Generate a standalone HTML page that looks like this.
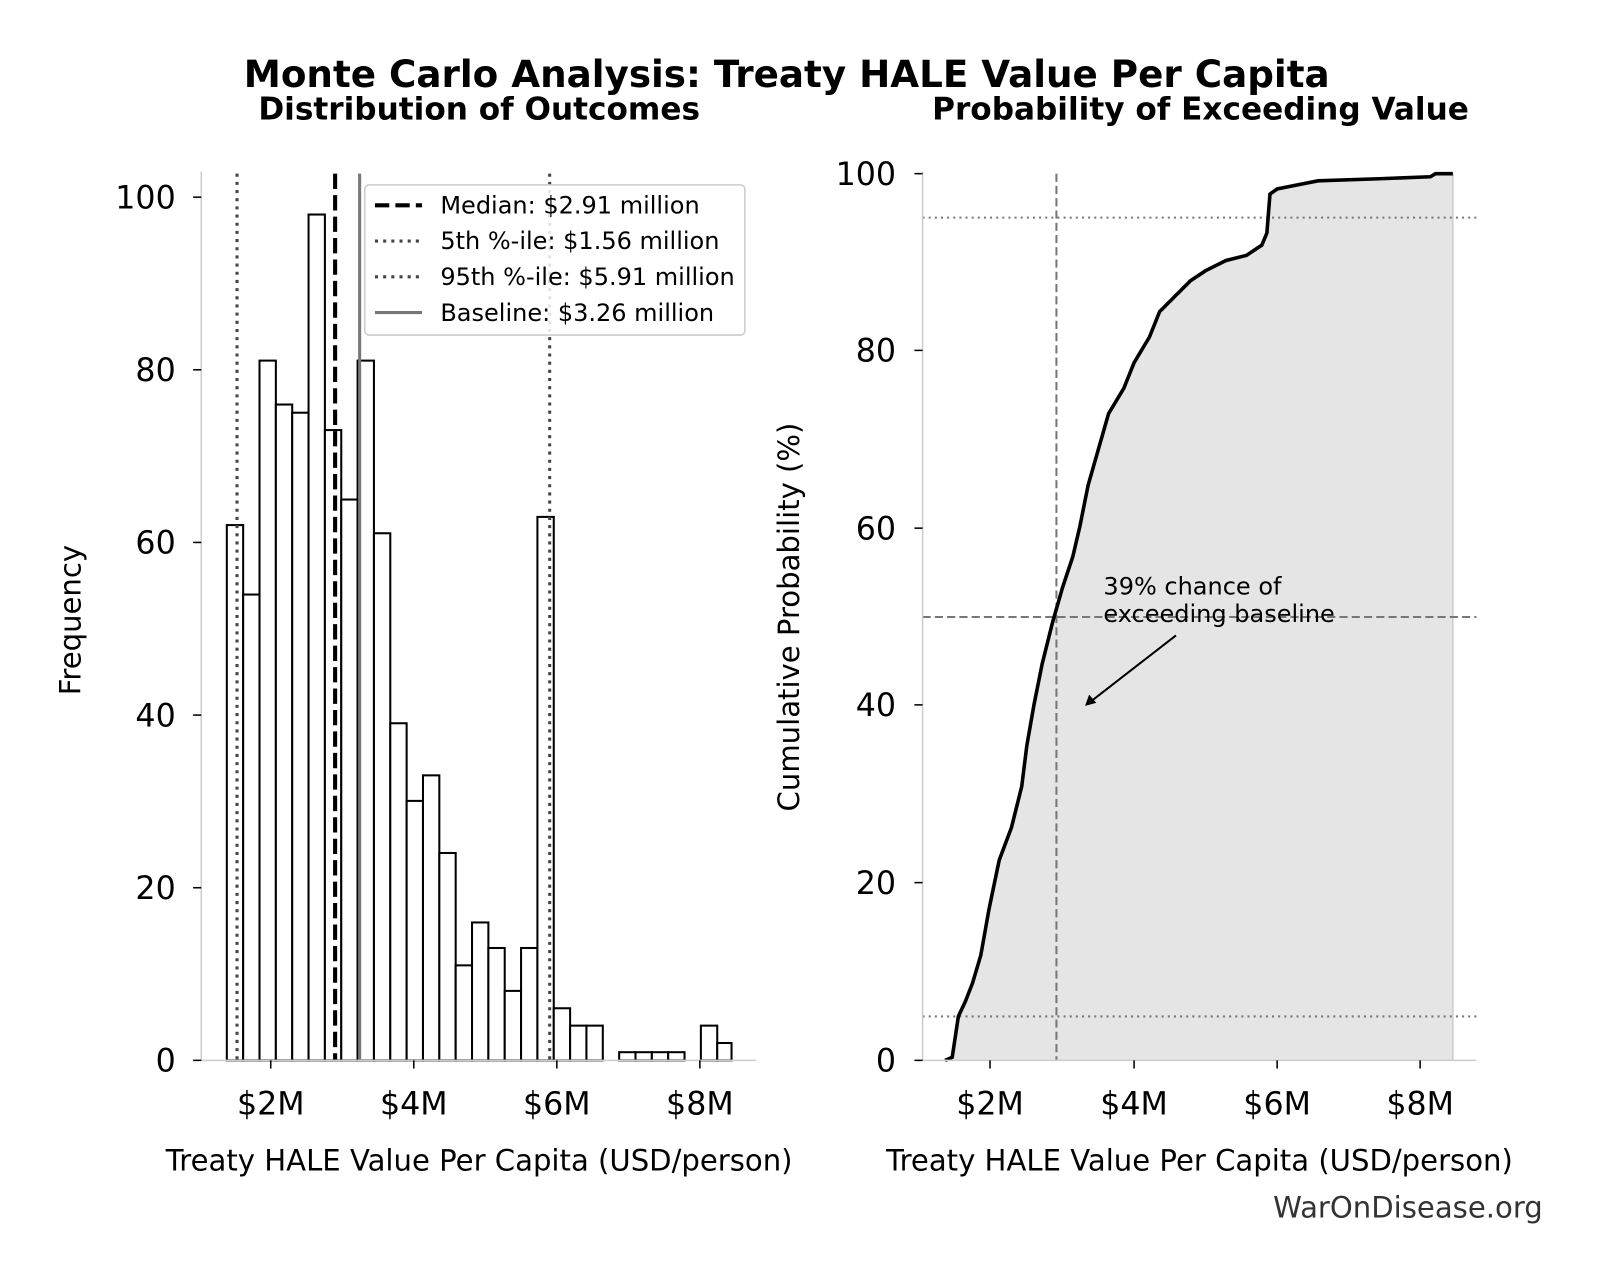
<!DOCTYPE html>
<html><head><meta charset="utf-8"><style>body{margin:0;background:#fff}svg{display:block}text{font-family:"DejaVu Sans","Liberation Sans",sans-serif}</style></head><body>
<svg width="1601" height="1280" viewBox="0 0 1567 1253" preserveAspectRatio="none">
<rect width="1567" height="1253" fill="#fff"/>
<text x="770" y="85" font-size="36.5" font-weight="bold" text-anchor="middle">Monte Carlo Analysis: Treaty HALE Value Per Capita</text>
<text x="469" y="117" font-size="30.5" font-weight="bold" text-anchor="middle">Distribution of Outcomes</text>
<text x="1175" y="117" font-size="30.5" font-weight="bold" text-anchor="middle">Probability of Exceeding Value</text>

<g stroke="#000" stroke-width="2" fill="#fff">
<rect x="222" y="514" width="16" height="524"/>
<rect x="238" y="582" width="16" height="456"/>
<rect x="254" y="353" width="16" height="685"/>
<rect x="270" y="396" width="16" height="642"/>
<rect x="286" y="404" width="16" height="634"/>
<rect x="302" y="210" width="16" height="828"/>
<rect x="318" y="421" width="16" height="617"/>
<rect x="334" y="489" width="16" height="549"/>
<rect x="350" y="353" width="16" height="685"/>
<rect x="366" y="522" width="16" height="516"/>
<rect x="382" y="708" width="16" height="330"/>
<rect x="398" y="784" width="16" height="254"/>
<rect x="414" y="759" width="16" height="279"/>
<rect x="430" y="835" width="16" height="203"/>
<rect x="446" y="945" width="16" height="93"/>
<rect x="462" y="903" width="16" height="135"/>
<rect x="478" y="928" width="16" height="110"/>
<rect x="494" y="970" width="16" height="68"/>
<rect x="510" y="928" width="16" height="110"/>
<rect x="526" y="506" width="16" height="532"/>
<rect x="542" y="987" width="16" height="51"/>
<rect x="558" y="1004" width="16" height="34"/>
<rect x="574" y="1004" width="16" height="34"/>
<rect x="606" y="1030" width="16" height="8"/>
<rect x="622" y="1030" width="16" height="8"/>
<rect x="638" y="1030" width="16" height="8"/>
<rect x="654" y="1030" width="16" height="8"/>
<rect x="686" y="1004" width="16" height="34"/>
<rect x="702" y="1021" width="14" height="17"/>
</g>
<line x1="232" y1="170" x2="232" y2="1038" stroke="#444" stroke-width="3" stroke-dasharray="3,5"/>
<line x1="538" y1="170" x2="538" y2="1038" stroke="#444" stroke-width="3" stroke-dasharray="3,5"/>
<line x1="328" y1="170" x2="328" y2="1038" stroke="#000" stroke-width="4" stroke-dasharray="15,6"/>
<line x1="352" y1="170" x2="352" y2="1038" stroke="#777" stroke-width="3"/>
<g stroke="#ccc" stroke-width="1.5"><line x1="197" y1="168" x2="197" y2="1038"/><line x1="197" y1="1038" x2="740" y2="1038"/></g>
<g stroke="#000" stroke-width="1.5">
<line x1="189" y1="1038" x2="197" y2="1038"/><line x1="189" y1="869" x2="197" y2="869"/><line x1="189" y1="700" x2="197" y2="700"/><line x1="189" y1="531" x2="197" y2="531"/><line x1="189" y1="362" x2="197" y2="362"/><line x1="189" y1="193" x2="197" y2="193"/>
<line x1="265" y1="1038" x2="265" y2="1046"/><line x1="405" y1="1038" x2="405" y2="1046"/><line x1="545" y1="1038" x2="545" y2="1046"/><line x1="685" y1="1038" x2="685" y2="1046"/>
</g>
<g font-size="31" text-anchor="end">
<text x="172" y="1049">0</text><text x="172" y="880">20</text><text x="172" y="711">40</text><text x="172" y="542">60</text><text x="172" y="373">80</text><text x="172" y="204">100</text>
</g>
<g font-size="31" text-anchor="middle">
<text x="265" y="1091">$2M</text><text x="405" y="1091">$4M</text><text x="545" y="1091">$6M</text><text x="685" y="1091">$8M</text>
<text x="469" y="1146" font-size="28.5">Treaty HALE Value Per Capita (USD/person)</text>
</g>
<text transform="translate(79,607) rotate(-90)" font-size="28.5" text-anchor="middle">Frequency</text>
<rect x="357" y="181" width="372" height="147" rx="4" fill="#fff" fill-opacity="0.85" stroke="#ccc" stroke-width="1.5"/>
<line x1="367" y1="201" x2="413" y2="201" stroke="#000" stroke-width="4" stroke-dasharray="14,6"/>
<line x1="367" y1="236" x2="413" y2="236" stroke="#444" stroke-width="3" stroke-dasharray="3,5"/>
<line x1="367" y1="271" x2="413" y2="271" stroke="#444" stroke-width="3" stroke-dasharray="3,5"/>
<line x1="367" y1="306" x2="413" y2="306" stroke="#777" stroke-width="3"/>
<g font-size="23.5"><text x="431" y="209">Median: $2.91 million</text><text x="431" y="244">5th %-ile: $1.56 million</text><text x="431" y="279">95th %-ile: $5.91 million</text><text x="431" y="314">Baseline: $3.26 million</text></g>

<path d="M925,1038 L932,1035 L938,995 L945,980 L952,962 L960,935 L968,890 L978,842 L990,810 L1000,770 L1005,730 L1012,690 L1020,650 L1030,610 L1040,575 L1050,545 L1057,515 L1065,475 L1075,440 L1085,405 L1100,380 L1110,355 L1125,330 L1135,305 L1150,290 L1165,275 L1180,265 L1200,255 L1220,250 L1235,240 L1240,228 L1243,190 L1250,185 L1265,182 L1290,177 L1350,175 L1400,173 L1405,170 L1422,170 L1422,1038 Z" fill="#e5e5e5"/>
<line x1="1422" y1="170" x2="1422" y2="1038" stroke="#ccc" stroke-width="1.5"/>
<line x1="903" y1="213" x2="1445" y2="213" stroke="#777" stroke-width="2" stroke-dasharray="2,4"/>
<line x1="903" y1="995" x2="1445" y2="995" stroke="#777" stroke-width="2" stroke-dasharray="2,4"/>
<line x1="903" y1="604" x2="1445" y2="604" stroke="#777" stroke-width="2" stroke-dasharray="8,4"/>
<line x1="1034" y1="170" x2="1034" y2="1038" stroke="#777" stroke-width="2" stroke-dasharray="8,4"/>
<path d="M925,1038 L932,1035 L938,995 L945,980 L952,962 L960,935 L968,890 L978,842 L990,810 L1000,770 L1005,730 L1012,690 L1020,650 L1030,610 L1040,575 L1050,545 L1057,515 L1065,475 L1075,440 L1085,405 L1100,380 L1110,355 L1125,330 L1135,305 L1150,290 L1165,275 L1180,265 L1200,255 L1220,250 L1235,240 L1240,228 L1243,190 L1250,185 L1265,182 L1290,177 L1350,175 L1400,173 L1405,170 L1422,170" fill="none" stroke="#000" stroke-width="3.5"/>
<g stroke="#ccc" stroke-width="1.5"><line x1="903" y1="168" x2="903" y2="1038"/><line x1="903" y1="1038" x2="1445" y2="1038"/></g>
<g stroke="#000" stroke-width="1.5">
<line x1="895" y1="1038" x2="903" y2="1038"/><line x1="895" y1="864" x2="903" y2="864"/><line x1="895" y1="690" x2="903" y2="690"/><line x1="895" y1="517" x2="903" y2="517"/><line x1="895" y1="343" x2="903" y2="343"/><line x1="895" y1="170" x2="903" y2="170"/>
<line x1="969" y1="1038" x2="969" y2="1046"/><line x1="1110" y1="1038" x2="1110" y2="1046"/><line x1="1250" y1="1038" x2="1250" y2="1046"/><line x1="1390" y1="1038" x2="1390" y2="1046"/>
</g>
<g font-size="31" text-anchor="end">
<text x="877" y="1049">0</text><text x="877" y="875">20</text><text x="877" y="701">40</text><text x="877" y="528">60</text><text x="877" y="354">80</text><text x="877" y="181">100</text>
</g>
<g font-size="31" text-anchor="middle">
<text x="969" y="1091">$2M</text><text x="1110" y="1091">$4M</text><text x="1250" y="1091">$6M</text><text x="1390" y="1091">$8M</text>
<text x="1174" y="1146" font-size="28.5">Treaty HALE Value Per Capita (USD/person)</text>
</g>
<text transform="translate(782,604) rotate(-90)" font-size="28.5" text-anchor="middle">Cumulative Probability (%)</text>
<text x="1080" y="582" font-size="23.5">39% chance of</text>
<text x="1080" y="609" font-size="23.5">exceeding baseline</text>
<line x1="1151" y1="622" x2="1066" y2="688" stroke="#000" stroke-width="2"/>
<path d="M1062,691 L1066,680 L1073,688 Z" fill="#000"/>
<text x="1510" y="1192" font-size="28.5" fill="#333" text-anchor="end">WarOnDisease.org</text>
</svg>
</body></html>
